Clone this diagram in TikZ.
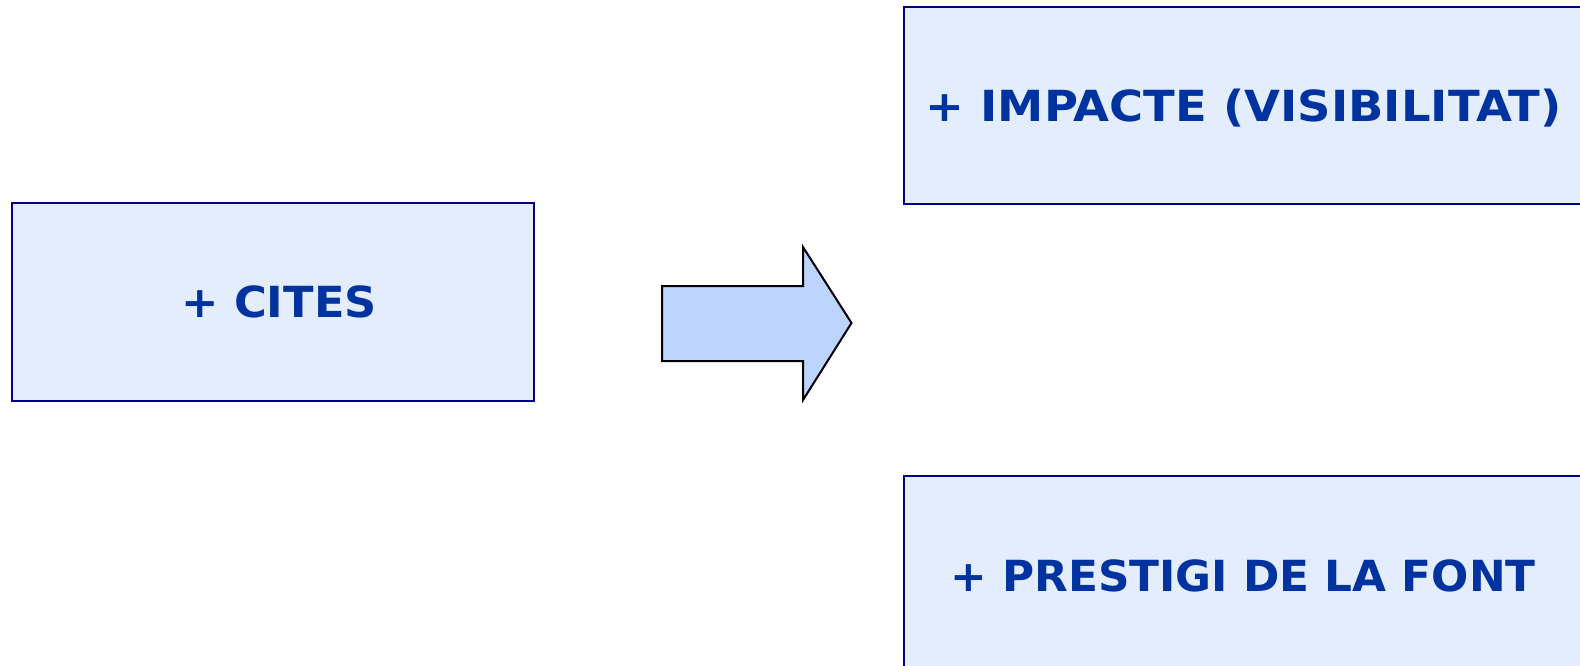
\documentclass[tikz,border=0pt]{standalone}
\usepackage{fontspec}
\setmainfont{DejaVu Sans}
\definecolor{boxfill}{HTML}{E3EDFD}
\definecolor{boxline}{HTML}{000080}
\definecolor{txt}{HTML}{0033A0}
\definecolor{arrfill}{HTML}{BCD4FE}
\begin{document}
\begin{tikzpicture}[x=1bp,y=-1bp,
  box/.style={draw=boxline,fill=boxfill,line width=2bp,inner sep=0pt,anchor=north west},
  lbl/.style={text=txt,font=\fontsize{43}{50}\selectfont\bfseries,inner sep=0pt,anchor=base}]
\useasboundingbox (0,0) rectangle (1580,666);
\clip (0,0) rectangle (1580,666);
\node[box,minimum width=522bp,minimum height=198bp] (cites) at (11,202) {};
\node[lbl] (tcites) at (279,317) {\scalebox{1.043}[1]{+ CITES}};
\node[box,minimum width=720bp,minimum height=197bp] (imp) at (903,6) {};
\node[lbl] (timp) at (1243.5,122) {\scalebox{1.084}[1]{+ IMPACTE (VISIBILITAT)}};
\node[box,minimum width=720bp,minimum height=220bp] (pres) at (903,474.5) {};
\node[lbl] (tpres) at (1243,591) {\scalebox{1.023}[1]{+ PRESTIGI DE LA FONT}};
\draw[fill=arrfill,line width=2bp,line join=miter]
  (662,286) -- (803,286) -- (803,247) -- (851.5,323) -- (803,400) -- (803,361) -- (662,361) -- cycle;
\end{tikzpicture}
\end{document}
